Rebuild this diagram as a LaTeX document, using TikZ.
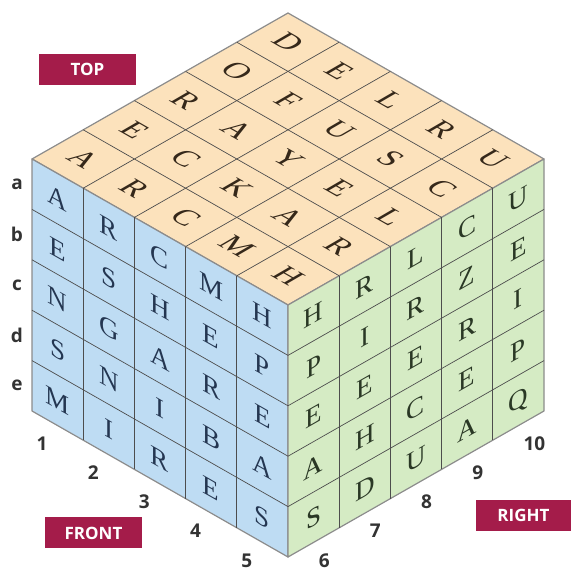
\documentclass[tikz,border=0pt]{standalone}
\usepackage{fontspec}
\usepackage{xcolor}
\usetikzlibrary{calc}
\newfontfamily\cubefont{Liberation Serif}
\newfontfamily\tagfont{Open Sans}
\definecolor{facetop}{HTML}{FCE2BC}
\definecolor{facefront}{HTML}{BEDCF3}
\definecolor{faceright}{HTML}{D5EBC4}
\definecolor{inktop}{HTML}{35281A}
\definecolor{inkfront}{HTML}{243651}
\definecolor{inkright}{HTML}{2A3825}
\definecolor{tagred}{HTML}{A41C4A}
\definecolor{edgegray}{HTML}{8C8C8C}
\definecolor{gridgray}{HTML}{4D4D4D}
\tikzset{
  face/.style={draw=edgegray, line width=1.2pt, line join=round},
  gridline/.style={draw=gridgray, line width=0.7pt},
  cubeletter/.style={font=\cubefont\fontsize{27}{27}\selectfont, inner sep=0pt,
    text height=17.5pt, text depth=0pt, anchor=center},
  facetag/.style={fill=tagred, text=white, font=\tagfont\bfseries\fontsize{17}{17}\selectfont,
    minimum width=97pt, minimum height=31pt, inner sep=0pt},
  axislabel/.style={text=black!80, font=\tagfont\bfseries\fontsize{19}{19}\selectfont, inner sep=0pt},
}

\begin{document}
\begin{tikzpicture}[x=1pt, y=1pt,
  frontletter/.style={cubeletter, text=inkfront, yslant=-0.57},
  rightletter/.style={cubeletter, text=inkright, yslant=0.57},
  topletter/.style={cubeletter, text=inktop, cm={1,-0.57,1,0.58,(0,0)}}]
\useasboundingbox (0,0) rectangle (571,571);

% ---- Cube corners ----
\coordinate (F)  at (288,266);
\coordinate (L)  at (32,412);
\coordinate (R)  at (544,412);
\coordinate (B)  at (288,558);
\coordinate (Fb) at (288,14);
\coordinate (Lb) at (32,160);
\coordinate (Rb) at (544,160);

% ---- Faces ----
\draw[face, fill=facetop]   (L) -- (B) -- (R) -- (F) -- cycle;
\draw[face, fill=facefront] (L) -- (F) -- (Fb) -- (Lb) -- cycle;
\draw[face, fill=faceright] (F) -- (R) -- (Rb) -- (Fb) -- cycle;

% ---- Grid ----
\foreach \i in {1,...,4} {
  \draw[gridline] ($(L)!\i/5!(B)$) -- ($(F)!\i/5!(R)$);
  \draw[gridline] ($(L)!\i/5!(F)$) -- ($(B)!\i/5!(R)$);
  \draw[gridline] ($(L)!\i/5!(F)$) -- ($(Lb)!\i/5!(Fb)$);
  \draw[gridline] ($(L)!\i/5!(Lb)$) -- ($(F)!\i/5!(Fb)$);
  \draw[gridline] ($(F)!\i/5!(R)$) -- ($(Fb)!\i/5!(Rb)$);
  \draw[gridline] ($(F)!\i/5!(Fb)$) -- ($(R)!\i/5!(Rb)$);
}

% ---- Top letters ----
\foreach \row [count=\r] in {{A,R,C,M,H},{E,C,K,A,R},{R,A,Y,E,L},{O,F,U,S,C},{D,E,L,R,U}}
  \foreach \ch [count=\k] in \row
    \node[topletter] (top-\r-\k) at ($(L)!{(\k-0.5)/5}!(F) + ({51.2*(\r-0.5)},{29.2*(\r-0.5)})$) {\ch};

% ---- Front letters ----
\foreach \row [count=\r] in {{A,R,C,M,H},{E,S,H,E,P},{N,G,A,R,E},{S,N,I,B,A},{M,I,R,E,S}}
  \foreach \ch [count=\k] in \row
    \node[frontletter] (front-\r-\k) at ($(L)!{(\k-0.5)/5}!(F) + (0,{-50.4*(\r-0.5)})$) {\ch};

% ---- Right letters ----
\foreach \row [count=\r] in {{H,R,L,C,U},{P,I,R,Z,E},{E,E,E,R,I},{A,H,C,E,P},{S,D,U,A,Q}}
  \foreach \ch [count=\k] in \row
    \node[rightletter] (right-\r-\k) at ($(F)!{(\k-0.5)/5}!(R) + (0,{-50.4*(\r-0.5)})$) {\ch};

% ---- Row and column labels ----
\foreach \lbl [count=\r] in {a,b,c,d,e}
  \node[axislabel] (row-\lbl) at ($(L) + (-15,{-50.4*(\r-0.5)})$) {\lbl};
\foreach \n in {1,...,5}
  \node[axislabel, anchor=east] (col-\n) at ($(Lb)!{(\n-0.5)/5}!(Fb) + (-10,-18)$) {\n};
\foreach \n in {6,...,10}
  \node[axislabel, anchor=west] (col-\n) at ($(Fb)!{(\n-5.5)/5}!(Rb) + (5,-18)$) {\n};

% ---- Face tags ----
\node[facetag] (toptag) at (87.5,501.5) {TOP};
\node[facetag] (fronttag) at (93.5,38) {FRONT};
\node[facetag, minimum width=95pt] (righttag) at (523.5,55.5) {RIGHT};

\end{tikzpicture}
\end{document}
